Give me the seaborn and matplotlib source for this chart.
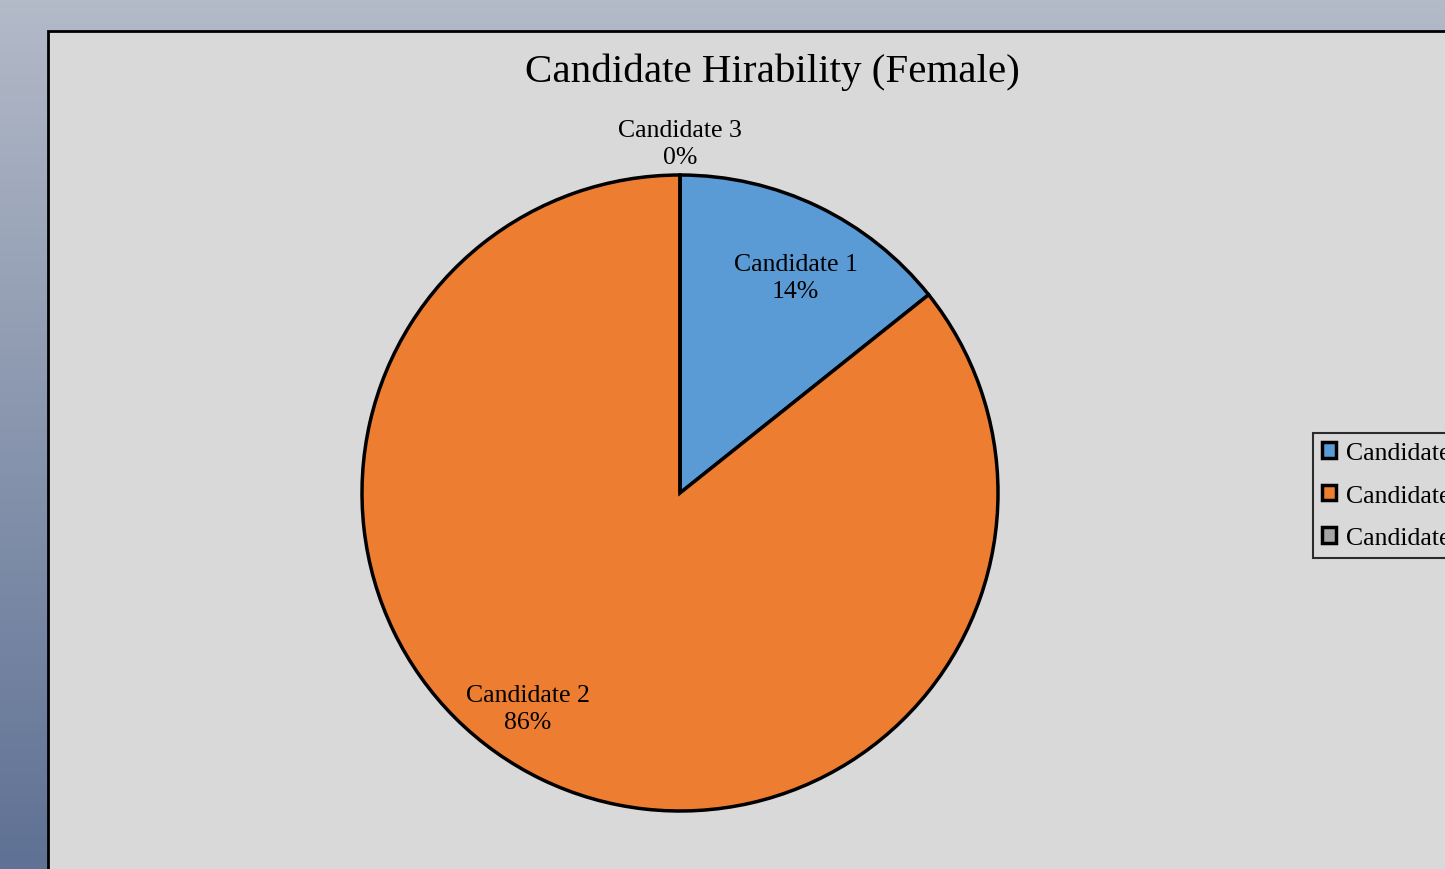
import numpy as np
import matplotlib
matplotlib.use("Agg")
import matplotlib.pyplot as plt
from matplotlib.patches import Rectangle, Patch
import seaborn as sns

# Data
candidates = ["Candidate 1", "Candidate 2", "Candidate 3"]
hired = [1, 6, 0]
colors = ["#5b9bd5", "#ed7d31", "#a5a5a5"]
title = "Candidate Hirability (Female)"

sns.set_theme(style="white")
plt.rcParams["font.family"] = ["Liberation Serif", "DejaVu Serif"]
plt.rcParams["text.color"] = "black"

W, H = 1445, 870
fig = plt.figure(figsize=(W / 100, H / 100), dpi=100)

# background gradient + chart area
bg = fig.add_axes([0, 0, 1, 1], zorder=0)
grad = np.linspace(0, 1, 256).reshape(-1, 1)
cmap = matplotlib.colors.LinearSegmentedColormap.from_list("bg", ["#b3bac8", "#5f7194"])
bg.imshow(grad, aspect="auto", cmap=cmap, extent=[0, 1, 0, 1])
bg.add_patch(Rectangle((48 / W, -0.02), 1.1, (H - 32) / H + 0.02,
                       facecolor="#d9d9d9", edgecolor="black", linewidth=2))
bg.set_xlim(0, 1)
bg.set_ylim(0, 1)
bg.set_axis_off()

fig.text(772 / W, 1 - 72 / H, title, ha="center", va="center", fontsize=29.5,
         color="black")

cx, cy, r = 680, 494, 318
ax = fig.add_axes([(cx - r) / W, (H - cy - r) / H, 2 * r / W, 2 * r / H], zorder=2)
wedges, _ = ax.pie(hired, colors=colors, startangle=90, counterclock=False,
                   wedgeprops=dict(edgecolor="black", linewidth=2.5))
ax.set_xlim(-1, 1)
ax.set_ylim(-1, 1)
ax.set_aspect("auto")
ax.set_axis_off()

# data labels (best-fit style placement)
total = sum(hired)
label_r = [0.77, 0.83, 1.10]
label_shift = [-2.5, -9.5, 0]
for w, name, v, lr, sh in zip(wedges, candidates, hired, label_r, label_shift):
    mid = np.deg2rad((w.theta1 + w.theta2) / 2 + sh)
    ax.text(lr * np.cos(mid), lr * np.sin(mid),
            f"{name}\n{v / total:.0%}", ha="center", va="center",
            fontsize=18.5, linespacing=1.3, color="black", clip_on=False)

handles = [Patch(facecolor=c, edgecolor="black", linewidth=2.5) for c in colors]
leg = fig.legend(handles, candidates, loc="upper left",
                 bbox_to_anchor=(1313 / W, 1 - 434 / H), fontsize=18.5,
                 frameon=True, fancybox=False, handlelength=0.55, handleheight=0.55,
                 handletextpad=0.4, labelspacing=0.8, borderpad=0.35,
                 borderaxespad=0)
leg.set_zorder(3)
leg.get_frame().set_edgecolor("black")
leg.get_frame().set_facecolor("#d9d9d9")
leg.get_frame().set_linewidth(1.5)
for t in leg.get_texts():
    t.set_color("black")

fig.savefig("out.png", dpi=100)
